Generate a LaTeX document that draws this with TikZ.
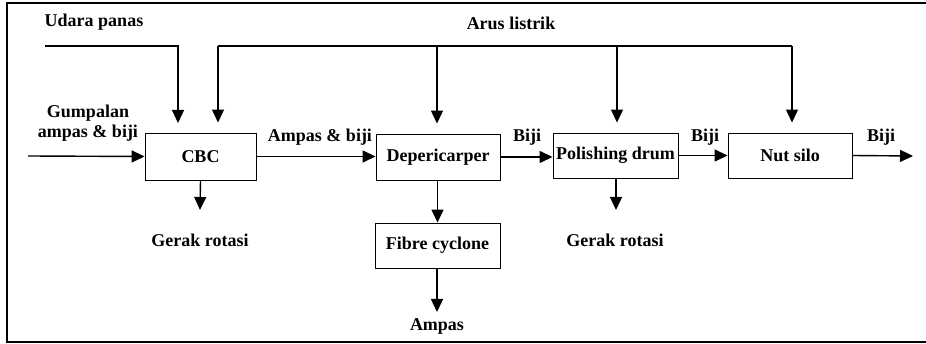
\documentclass[tikz,border=0pt]{standalone}
\usepackage{fontspec}
\setmainfont{Liberation Serif}
\usetikzlibrary{arrows.meta}
\begin{document}
\begin{tikzpicture}[x=1pt,y=-1pt,
  box/.style={draw,line width=0.9pt,inner sep=0pt,font=\fontsize{18}{20}\selectfont\bfseries},
  lbl/.style={inner sep=0pt,font=\fontsize{18}{20}\selectfont\bfseries},
  arr/.style={line width=1.4pt,-{Triangle[length=13pt,width=12pt]}},
  feed/.style={line width=1.1pt,-{Triangle[length=13pt,width=12pt]},shorten >=10pt}]
\useasboundingbox (0,0) rectangle (926,344);
\draw[line width=2pt] (926,3) -- (7,3) -- (7,342) -- (926,342);
% boxes
\node[box,minimum width=111pt,minimum height=47pt] (cbc) at (200.5,156.5) {CBC};
\node[box,minimum width=124pt,minimum height=46pt] (dep) at (438,157) {Depericarper};
\node[box,minimum width=125pt,minimum height=45pt] (pol) at (615.5,155.5) {Polishing drum};
\node[box,minimum width=124pt,minimum height=45pt] (nut) at (790,155.5) {Nut silo};
\node[box,minimum width=125pt,minimum height=45pt] (fib) at (437.5,245.5) {Fibre cyclone};
% labels
\node[lbl] (udara) at (94,22) {Udara panas};
\node[lbl] (arus) at (511,23) {Arus listrik};
\node[lbl,align=center] (gump) at (88,123) {Gumpalan\\ampas \& biji};
\node[lbl] (ab) at (320,137) {Ampas \& biji};
\node[lbl] (b1) at (527,137) {Biji};
\node[lbl] (b2) at (705,137) {Biji};
\node[lbl] (b3) at (881,137) {Biji};
\node[lbl] (g1) at (200,240) {Gerak rotasi};
\node[lbl] (g2) at (615,240) {Gerak rotasi};
\node[lbl] (amp) at (437,326) {Ampas};
% coordinates
\coordinate (uin) at (45,46);
\coordinate (bus1) at (218,46);
\coordinate (bus2) at (437,46);
\coordinate (bus3) at (617,46);
\coordinate (bus4) at (792,46);
\coordinate (gin) at (28,156);
\coordinate (bout) at (913,156);
\coordinate (r1) at (200,210);
\coordinate (r2) at (616,210);
\coordinate (fa) at (437,312);
% top feeds
\draw[feed] (uin) -| (178,133);
\draw[line width=1.1pt] (bus1) -- (bus4);
\draw[feed] (bus1) -- (bus1 |- cbc.north);
\draw[feed] (bus2) -- (bus2 |- dep.north);
\draw[feed] (bus3) -- (bus3 |- pol.north);
\draw[feed] (bus4) -- (bus4 |- nut.north);
% flow
\draw[arr] (gin) -- (cbc.west);
\draw[arr] (cbc.east) -- (cbc.east -| dep.west);
\draw[arr] (dep.east) -- (dep.east -| pol.west);
\draw[arr] (pol.east) -- (pol.east -| nut.west);
\draw[arr] (nut.east) -- (bout);
\draw[arr] (cbc.south) -- (r1);
\draw[arr] (pol.south -| r2) -- (r2);
\draw[arr] (dep.south -| fib.north) -- (fib.north);
\draw[arr] (fib.south -| fa) -- (fa);
\end{tikzpicture}
\end{document}
